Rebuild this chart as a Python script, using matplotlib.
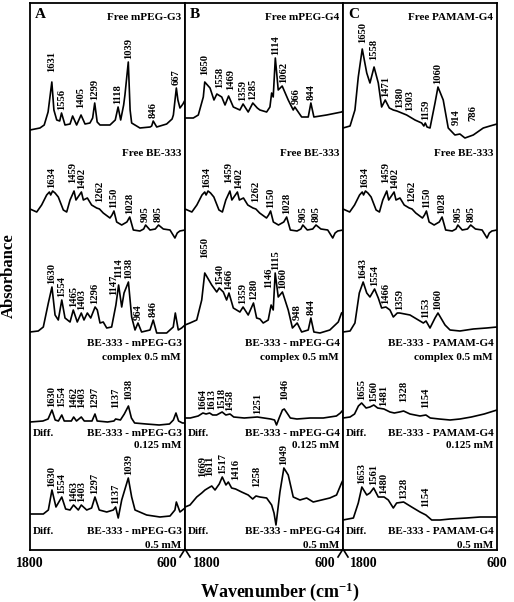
import matplotlib
matplotlib.use("Agg")
import matplotlib.pyplot as plt
import numpy as np
from matplotlib.lines import Line2D

plt.rcParams['font.family'] = ['Liberation Serif', 'DejaVu Serif']
plt.rcParams['font.weight'] = 'bold'
plt.rcParams['mathtext.fontset'] = 'custom'
plt.rcParams['mathtext.bf'] = 'Liberation Serif:bold'
plt.rcParams['mathtext.rm'] = 'Liberation Serif:bold'
plt.rcParams['mathtext.default'] = 'bf'

# ---------------- data: stacked absorbance (a.u.) vs wavenumber (cm-1) ----------------
# Panel A, free mPEG-G3
A1_wn = [1800, 1723, 1690, 1660, 1631, 1615, 1593, 1570, 1556, 1529, 1490, 1470, 1439, 1405, 1374, 1336,
         1315, 1299, 1280, 1258, 1181, 1140, 1118, 1098, 1075, 1065, 1039, 1025, 1013, 949, 870, 858, 846,
         819, 742, 700, 690, 667, 655, 639, 616, 600]
A1_ab = [420, 422, 425, 438, 468, 440, 430, 429, 437, 425, 426, 434, 425, 435, 426, 427,
         432, 447, 428, 425, 425, 430, 443, 430, 445, 455, 488, 440, 427, 422, 423, 424, 429,
         423, 426, 431, 435, 462, 450, 442, 446, 450]
# Free BE-333 (same in all panels)
BE_wn = [1800, 1748, 1710, 1671, 1650, 1640, 1625, 1606, 1581, 1542, 1516, 1490, 1459, 1444, 1402, 1387,
         1356, 1323, 1284, 1262, 1233, 1181, 1165, 1150, 1129, 1090, 1050, 1028, 1000, 949, 920, 905, 871,
         830, 805, 768, 716, 678, 660, 640, 600]
BE_ab = [341, 338, 345, 355, 358, 355, 359, 357, 353, 340, 338, 350, 359, 350, 358, 350,
         352, 345, 342, 341, 337, 332, 335, 339, 328, 325, 328, 333, 320, 319, 321, 325, 320,
         321, 325, 321, 320, 312, 317, 319, 320]
# BE-333 - mPEG-G3 complex 0.5 mM
A3_wn = [1800, 1736, 1697, 1658, 1630, 1606, 1581, 1554, 1529, 1490, 1465, 1434, 1403, 1382, 1356, 1330,
         1296, 1279, 1258, 1233, 1206, 1168, 1147, 1135, 1114, 1090, 1072, 1038, 1013, 987, 964, 936, 871,
         846, 819, 742, 691, 675, 652, 626, 600]
A3_ab = [218, 219, 223, 247, 263, 235, 230, 250, 232, 228, 240, 228, 237, 230, 237, 232,
         243, 240, 227, 228, 222, 223, 237, 245, 265, 243, 257, 268, 233, 220, 227, 218, 220,
         230, 217, 217, 223, 237, 220, 222, 225]
# Diff. BE-333 - mPEG-G3 0.125 mM
A4_wn = [1800, 1700, 1660, 1630, 1605, 1580, 1554, 1535, 1480, 1462, 1440, 1403, 1380, 1320, 1297, 1280,
         1200, 1150, 1137, 1100, 1070, 1038, 1015, 990, 900, 800, 720, 690, 670, 650, 620, 600]
A4_ab = [128, 129, 131, 140, 130, 129, 135, 129, 129, 133, 129, 133, 129, 129, 136, 129,
         128, 129, 131, 130, 136, 144, 132, 127, 126, 125, 126, 130, 137, 129, 127, 127]
# Diff. BE-333 - mPEG-G3 0.5 mM
A5_wn = [1800, 1697, 1658, 1630, 1599, 1554, 1524, 1490, 1463, 1426, 1403, 1361, 1323, 1297, 1264, 1206,
         1155, 1137, 1117, 1090, 1039, 1013, 987, 897, 794, 716, 678, 667, 639, 600]
A5_ab = [36, 36, 40, 60, 43, 53, 41, 40, 45, 40, 45, 40, 42, 53, 40, 38,
         40, 43, 32, 50, 72, 53, 40, 35, 33, 34, 40, 48, 38, 42]

# Panel B, free mPEG-G4
B1_wn = [1800, 1737, 1699, 1661, 1650, 1610, 1580, 1558, 1521, 1496, 1469, 1433, 1383, 1359, 1320, 1285,
         1251, 1231, 1180, 1155, 1142, 1130, 1114, 1092, 1062, 1016, 978, 966, 914, 864, 844, 821, 725,
         611, 600]
B1_ab = [432, 432, 435, 453, 468, 462, 450, 456, 453, 445, 454, 443, 440, 446, 438, 447,
         442, 440, 438, 443, 457, 453, 492, 460, 464, 450, 440, 443, 433, 433, 447, 433, 435,
         438, 439]
# BE-333 - mPEG-G4 complex 0.5 mM
B3_wn = [1800, 1762, 1711, 1673, 1650, 1597, 1559, 1540, 1509, 1484, 1466, 1433, 1383, 1359, 1320, 1280,
         1256, 1231, 1206, 1168, 1146, 1130, 1115, 1092, 1060, 1016, 984, 948, 914, 864, 844, 821, 775,
         700, 636, 611, 600]
B3_ab = [225, 227, 230, 250, 277, 265, 258, 262, 258, 250, 257, 242, 238, 243, 235, 247,
         232, 231, 227, 230, 245, 240, 277, 253, 258, 240, 222, 227, 218, 220, 232, 218, 217,
         220, 228, 237, 238]
# Diff. BE-333 - mPEG-G4 0.125 mM
B4_wn = [1800, 1760, 1700, 1664, 1640, 1613, 1590, 1560, 1518, 1490, 1458, 1430, 1350, 1251, 1150, 1120,
         1105, 1085, 1060, 1046, 1020, 1000, 950, 850, 750, 650, 620, 600]
B4_ab = [132, 132, 134, 137, 136, 137, 135, 135, 138, 135, 136, 133, 132, 133, 131, 130,
         125, 132, 140, 141, 136, 132, 131, 132, 132, 134, 137, 140]
# Diff. BE-333 - mPEG-G4 0.5 mM
B5_wn = [1800, 1762, 1711, 1673, 1648, 1623, 1597, 1572, 1540, 1517, 1489, 1471, 1446, 1416, 1370, 1320,
         1286, 1261, 1231, 1180, 1142, 1124, 1109, 1079, 1049, 1016, 978, 927, 876, 826, 763, 700, 649,
         611, 600]
B5_ab = [43, 45, 53, 57, 60, 62, 64, 60, 66, 73, 65, 68, 62, 61, 58, 55,
         51, 54, 53, 52, 45, 37, 25, 58, 82, 75, 53, 50, 52, 48, 50, 52, 55,
         67, 70]

# Panel C, free PAMAM-G4
C1_wn = [1800, 1745, 1707, 1681, 1650, 1615, 1590, 1558, 1525, 1499, 1471, 1439, 1408, 1380, 1304, 1239,
         1187, 1170, 1159, 1145, 1122, 1083, 1060, 1019, 980, 928, 889, 850, 785, 707, 655, 600]
C1_ab = [422, 424, 440, 473, 501, 477, 467, 483, 467, 443, 450, 442, 440, 439, 435, 430,
         427, 424, 427, 423, 422, 447, 463, 450, 422, 415, 416, 412, 415, 422, 424, 426]
# BE-333 - PAMAM-G4 complex 0.5 mM
C3_wn = [1800, 1745, 1707, 1673, 1643, 1615, 1590, 1554, 1525, 1499, 1466, 1434, 1408, 1377, 1359, 1278,
         1213, 1174, 1153, 1122, 1083, 1060, 1005, 966, 889, 785, 681, 600]
C3_ab = [218, 219, 227, 257, 268, 257, 253, 261, 252, 242, 243, 240, 233, 237, 237, 235,
         230, 227, 229, 222, 232, 237, 225, 220, 219, 221, 222, 223]
# Diff. BE-333 - PAMAM-G4 0.125 mM
C4_wn = [1800, 1745, 1710, 1680, 1655, 1620, 1590, 1560, 1530, 1481, 1434, 1400, 1360, 1328, 1278, 1200,
         1154, 1120, 1050, 966, 889, 800, 700, 650, 600]
C4_ab = [132, 133, 136, 144, 147, 142, 143, 145, 142, 141, 138, 137, 138, 139, 136, 134,
         135, 132, 131, 130, 131, 133, 136, 138, 140]
# Diff. BE-333 - PAMAM-G4 0.5 mM
C5_wn = [1800, 1719, 1681, 1653, 1615, 1590, 1561, 1525, 1480, 1447, 1408, 1382, 1328, 1265, 1200, 1154,
         1109, 1044, 966, 836, 732, 600]
C5_ab = [30, 32, 47, 63, 55, 57, 62, 53, 53, 50, 42, 47, 48, 43, 38, 35,
         30, 30, 31, 32, 33, 33]

# peak labels (cm-1)
A1_peaks = [1631, 1556, 1405, 1299, 1118, 1039, 846, 667]
BE_peaks = [1634, 1459, 1402, 1262, 1150, 1028, 905, 805]
A3_peaks = [1630, 1554, 1465, 1403, 1296, 1147, 1114, 1038, 964, 846]
A4_peaks = [1630, 1554, 1462, 1403, 1297, 1137, 1038]
A5_peaks = [1630, 1554, 1463, 1403, 1297, 1137, 1039]
B1_peaks = [1650, 1558, 1469, 1359, 1285, 1114, 1062, 966, 844]
B3_peaks = [1650, 1540, 1466, 1359, 1280, 1146, 1115, 1060, 948, 844]
B4_peaks = [1664, 1613, 1518, 1458, 1251, 1046]
B5_peaks = [1669, 1611, 1517, 1416, 1258, 1049]
C1_peaks = [1650, 1558, 1471, 1380, 1303, 1159, 1060, 914, 786]
C3_peaks = [1643, 1554, 1466, 1359, 1153, 1060]
C4_peaks = [1655, 1560, 1481, 1328, 1154]
C5_peaks = [1653, 1561, 1480, 1328, 1154]

panel_letters = ['A', 'B', 'C']
free_titles = ['Free mPEG-G3', 'Free mPEG-G4', 'Free PAMAM-G4']
complex_names = ['BE-333 - mPEG-G3', 'BE-333 - mPEG-G4', 'BE-333 - PAMAM-G4']
xtick_vals = [1800, 600]

# ---------------- layout ----------------
W, H = 514, 602
fig = plt.figure(figsize=(W / 100, H / 100), dpi=100)
fig.patch.set_facecolor('white')

def fx(x):
    return x / W

def fy(y):
    return 1 - y / H

TOP, BOT = 3, 550
edges = [(30, 185), (185, 343), (343, 497)]

# label layout tweaks: x position override (cm-1) and extra lift (px)
label_x = {('B1', 1558): 1540, ('B1', 1469): 1452, ('B1', 1062): 1052, ('B1', 966): 952,
           ('B3', 1146): 1163, ('B3', 1115): 1108, ('B4', 1613): 1598,
           ('C1', 1380): 1360, ('C1', 1303): 1278, ('A3', 1147): 1152,
           ('BE', 1459): 1466, ('BE', 1402): 1396}
label_lift = {('A1', 1631): 7, ('A1', 1405): 4, ('B1', 1650): 4, ('B1', 1558): 3, ('B1', 1469): 3,
              ('B3', 1650): 12, ('B3', 1146): 14, ('C1', 1650): 3, ('C1', 1558): 4,
              ('C1', 914): 6, ('C1', 786): 10, ('B5', 1669): 11, ('B5', 1611): 7, ('B5', 1416): 6,
              ('B5', 1258): 6, ('C5', 1154): 4, ('C4', 1328): 6, ('C4', 1154): 4, ('B4', 1046): 6,
              ('A4', 1554): 5, ('A4', 1462): 6, ('A4', 1403): 6, ('A4', 1297): 3, ('A4', 1137): 8,
              ('A4', 1038): 3, ('BE', 1459): 5, ('BE', 1262): 3, ('A3', 1147): 7, ('A3', 1114): 4}

traces = {
    'A': [('A1', A1_wn, A1_ab, A1_peaks), ('BE', BE_wn, BE_ab, BE_peaks), ('A3', A3_wn, A3_ab, A3_peaks),
          ('A4', A4_wn, A4_ab, A4_peaks), ('A5', A5_wn, A5_ab, A5_peaks)],
    'B': [('B1', B1_wn, B1_ab, B1_peaks), ('BE', BE_wn, BE_ab, BE_peaks), ('B3', B3_wn, B3_ab, B3_peaks),
          ('B4', B4_wn, B4_ab, B4_peaks), ('B5', B5_wn, B5_ab, B5_peaks)],
    'C': [('C1', C1_wn, C1_ab, C1_peaks), ('BE', BE_wn, BE_ab, BE_peaks), ('C3', C3_wn, C3_ab, C3_peaks),
          ('C4', C4_wn, C4_ab, C4_peaks), ('C5', C5_wn, C5_ab, C5_peaks)],
}

FS_LAB = 8
FS_PEAK = 7.6
PX = 0.72  # points per pixel

for i, (l, r) in enumerate(edges):
    ax = fig.add_axes([fx(l), fy(BOT), (r - l) / W, (BOT - TOP) / H])
    ax.set_xlim(1800, 600)
    ax.set_ylim(0, BOT - TOP)
    ax.set_yticks([])
    ax.set_xticks([])
    for s in ax.spines.values():
        s.set_linewidth(1.3)
    letter = panel_letters[i]
    for key, wn, ab, peaks in traces[letter]:
        ax.plot(wn, ab, color='black', lw=1.2, solid_joinstyle='round')
        wr = np.array(wn[::-1], float)
        arr = np.array(ab[::-1], float)
        for p in peaks:
            grid = np.linspace(p - 12, p + 12, 25)
            top = np.interp(grid, wr, arr).max()
            xpos = label_x.get((key, p), p)
            lift = 3 + label_lift.get((key, p), 0)
            ax.annotate(str(p), xy=(xpos, top), xytext=(0, lift * PX), textcoords='offset points',
                        rotation=90, ha='center', va='bottom', fontsize=FS_PEAK, fontweight='bold')

    # x tick labels
    has = [('center', 0), ('right', -6)] if i == 0 else ([('left', 6), ('right', -6)] if i == 1
                                                         else [('left', 5), ('center', 0)])
    for v, (ha, dx) in zip(xtick_vals, has):
        ax.annotate(str(v), xy=(v, 0), xycoords=('data', 'axes fraction'), xytext=(dx, -9.5),
                    textcoords='offset points', ha=ha, va='center', fontsize=10, fontweight='bold')

    # panel letter and group labels
    fig.text(fx(l + 5), fy(15), letter, fontsize=11, fontweight='bold', ha='left', va='center')
    fig.text(fx(r - 4), fy(17), free_titles[i], fontsize=FS_LAB, fontweight='bold', ha='right', va='center')
    fig.text(fx(r - 4), fy(154), 'Free BE-333', fontsize=FS_LAB, fontweight='bold', ha='right', va='center')
    fig.text(fx(r - 3), fy(344), complex_names[i], fontsize=FS_LAB, fontweight='bold', ha='right', va='center')
    fig.text(fx(r - 4), fy(358), 'complex 0.5 mM', fontsize=FS_LAB, fontweight='bold', ha='right', va='center')
    fig.text(fx(l + 3), fy(433), 'Diff.', fontsize=FS_LAB, fontweight='bold', ha='left', va='center')
    fig.text(fx(r - 3), fy(433), complex_names[i], fontsize=FS_LAB, fontweight='bold', ha='right', va='center')
    fig.text(fx(r - 4), fy(446), '0.125 mM', fontsize=FS_LAB, fontweight='bold', ha='right', va='center')
    fig.text(fx(l + 3), fy(532), 'Diff.', fontsize=FS_LAB, fontweight='bold', ha='left', va='center')
    fig.text(fx(r - 3), fy(532), complex_names[i], fontsize=FS_LAB, fontweight='bold', ha='right', va='center')
    fig.text(fx(r - 4), fy(545), '0.5 mM', fontsize=FS_LAB, fontweight='bold', ha='right', va='center')

# axis break marks between panels
for xb in (185, 343):
    fig.add_artist(Line2D([fx(xb - 5), fx(xb), fx(xb + 5)], [fy(557), fy(549), fy(557)],
                          color='black', lw=1.2, transform=fig.transFigure))

fig.text(fx(280), fy(592), 'Wavenumber (cm$^{-1}$)', fontsize=13, fontweight='bold', ha='center', va='center')
fig.text(fx(9), fy(276), 'Absorbance', fontsize=12, fontweight='bold', rotation=90, ha='center', va='center')

fig.savefig('out.png', dpi=100)
